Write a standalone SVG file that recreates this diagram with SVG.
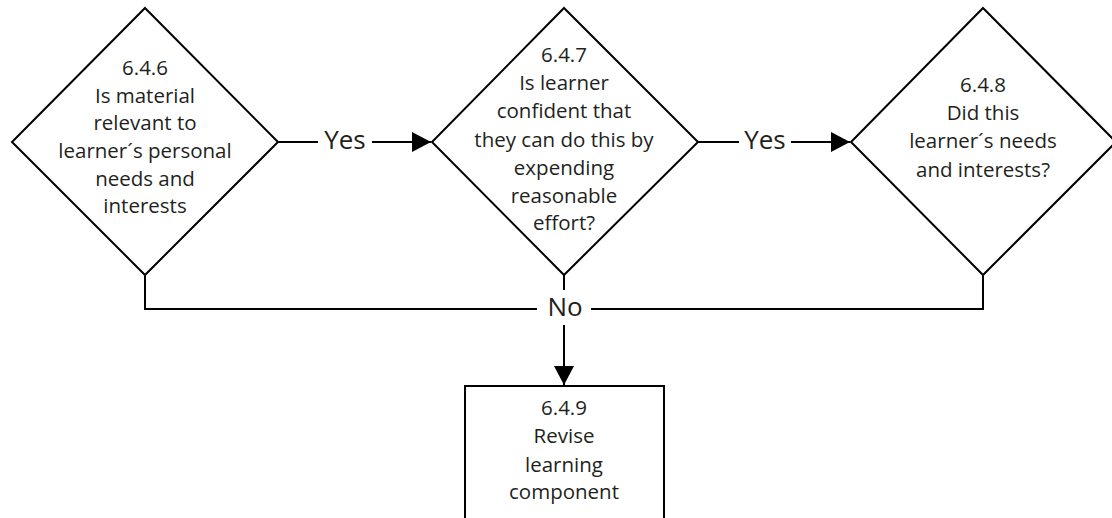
<svg xmlns="http://www.w3.org/2000/svg" width="1112" height="518" viewBox="0 0 1112 518">
<style>
.shape{fill:#fff;stroke:#000;stroke-width:2}
.conn{fill:none;stroke:#000;stroke-width:2}
.t{font-family:"Open Sans","Liberation Sans",sans-serif;font-size:20.5px;fill:#231f20;text-anchor:middle}
.lbl{font-family:"Open Sans","Liberation Sans",sans-serif;font-size:26px;fill:#231f20;text-anchor:middle}
</style>
<defs>
<marker id="arr" markerWidth="20" markerHeight="20" viewBox="0 0 20 20" refX="19" refY="10" orient="auto" markerUnits="userSpaceOnUse">
<path d="M0,0 L19,10 L0,20 Z" fill="#000"/>
</marker>
</defs>
<rect width="1112" height="518" fill="#fff"/>
<g id="connectors">
<line class="conn" x1="278" y1="142" x2="318" y2="142"/>
<line class="conn" x1="372" y1="142" x2="431" y2="142" marker-end="url(#arr)"/>
<text class="lbl" x="345" y="149">Yes</text>
<line class="conn" x1="698" y1="142" x2="739" y2="142"/>
<line class="conn" x1="791" y1="142" x2="850" y2="142" marker-end="url(#arr)"/>
<text class="lbl" x="765" y="149">Yes</text>
<polyline class="conn" points="145,275 145,309 537,309"/>
<polyline class="conn" points="983,275 983,309 591,309"/>
<line class="conn" x1="564" y1="275" x2="564" y2="290"/>
<line class="conn" x1="564" y1="325" x2="564" y2="385" marker-end="url(#arr)"/>
<text class="lbl" x="565" y="316">No</text>
</g>
<g id="n646">
<polygon class="shape" points="145,8 278,142 145,275 12,142"/>
<text class="t" x="145"><tspan x="145" y="75">6.4.6</tspan><tspan x="145" y="103">Is material</tspan><tspan x="145" y="130">relevant to</tspan><tspan x="145" y="158">learner´s personal</tspan><tspan x="145" y="186">needs and</tspan><tspan x="145" y="213">interests</tspan></text>
</g>
<g id="n647">
<polygon class="shape" points="564,8 698,142 564,275 432,142"/>
<text class="t" x="564"><tspan x="564" y="62">6.4.7</tspan><tspan x="564" y="90">Is learner</tspan><tspan x="564" y="118">confident that</tspan><tspan x="564" y="147">they can do this by</tspan><tspan x="564" y="175">expending</tspan><tspan x="564" y="203">reasonable</tspan><tspan x="564" y="230">effort?</tspan></text>
</g>
<g id="n648">
<polygon class="shape" points="983,8 1116,142 983,275 851,142"/>
<text class="t" x="983"><tspan x="983" y="92">6.4.8</tspan><tspan x="983" y="120">Did this</tspan><tspan x="983" y="148">learner´s needs</tspan><tspan x="983" y="177">and interests?</tspan></text>
</g>
<g id="n649">
<rect class="shape" x="465" y="386" width="199" height="140"/>
<text class="t" x="564"><tspan x="564" y="415">6.4.9</tspan><tspan x="564" y="443">Revise</tspan><tspan x="564" y="472">learning</tspan><tspan x="564" y="499">component</tspan></text>
</g>
</svg>
